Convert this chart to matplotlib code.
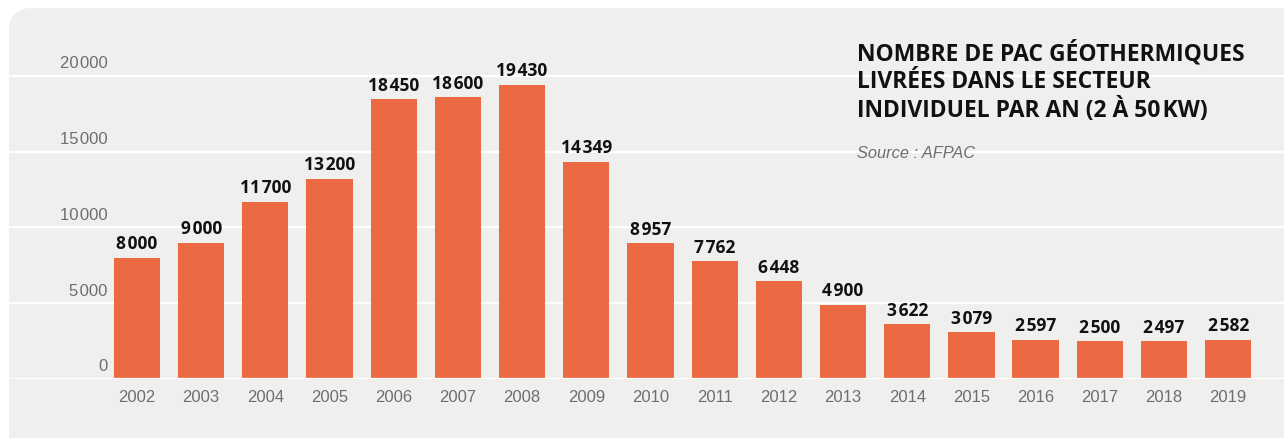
import matplotlib.pyplot as plt
from matplotlib.patches import FancyBboxPatch
from matplotlib.transforms import blended_transform_factory

years = ['2002', '2003', '2004', '2005', '2006', '2007', '2008', '2009', '2010',
         '2011', '2012', '2013', '2014', '2015', '2016', '2017', '2018', '2019']
values = [8000, 9000, 11700, 13200, 18450, 18600, 19430, 14349, 8957,
          7762, 6448, 4900, 3622, 3079, 2597, 2500, 2497, 2582]
yticks = [0, 5000, 10000, 15000, 20000]

W, H = 1284, 439
bg = '#f0efee'
bar_color = '#ec6943'
grey = '#6e6e6e'
bold_fam = ['Open Sans', 'DejaVu Sans']
light_fam = ['Liberation Sans', 'DejaVu Sans']


def fmt(v):
    s = f'{v:,}'.replace(',', '\u200a')
    return s


fig = plt.figure(figsize=(W / 100, H / 100), dpi=100)
fig.patch.set_facecolor('white')
panel = FancyBboxPatch((9 / W, -0.1), 1.2, (430 / H) + 0.1,
                       boxstyle='round,pad=0,rounding_size=0.018',
                       transform=fig.transFigure, facecolor=bg,
                       edgecolor='none', zorder=-5,
                       mutation_aspect=W / H)
fig.patches.append(panel)

ax = fig.add_axes([9 / W, 59 / H, 1 - 9 / W, 371 / H])
ax.set_facecolor('none')
x = list(range(len(years)))
ax.bar(x, values, width=0.72, color=bar_color, zorder=3)
ax.set_xlim(-1.994, 17.87)
ax.set_ylim(0, 24488)

for t in yticks:
    ax.axhline(t, color='white', linewidth=1.6, zorder=1)
ax.axhline(0, color='white', linewidth=1.6, zorder=4)

for s in ax.spines.values():
    s.set_visible(False)
ax.set_xticks([])
ax.set_yticks([])

tr = blended_transform_factory(ax.transAxes, ax.transData)
for t in yticks:
    ax.annotate(fmt(t), xy=(0.0775, t), xycoords=tr, xytext=(0, 4),
                textcoords='offset points', ha='right', va='bottom',
                fontsize=12, color=grey, family=light_fam)

for xi, yr in zip(x, years):
    ax.annotate(yr, xy=(xi, 0), xytext=(0, -7), textcoords='offset points',
                ha='center', va='top', fontsize=12, color=grey, family=light_fam)

for xi, v in zip(x, values):
    ax.annotate(fmt(v), xy=(xi, v), xytext=(0, 4), textcoords='offset points',
                ha='center', va='bottom', fontsize=12.5, fontweight='bold',
                color='#111111', family=bold_fam)

fig.text(857 / W, 1 - 41 / H,
         'NOMBRE DE PAC GÉOTHERMIQUES\nLIVRÉES DANS LE SECTEUR\nINDIVIDUEL PAR AN (2 À 50\u200aKW)',
         ha='left', va='top', fontsize=16.5, fontweight='bold', color='#111111',
         family=bold_fam, linespacing=1.2)
fig.text(857 / W, 1 - 153 / H, 'Source : AFPAC', ha='left', va='center',
         fontsize=11.8, style='italic', color=grey, family=light_fam)

fig.savefig('out.png', dpi=100, facecolor=fig.get_facecolor())
